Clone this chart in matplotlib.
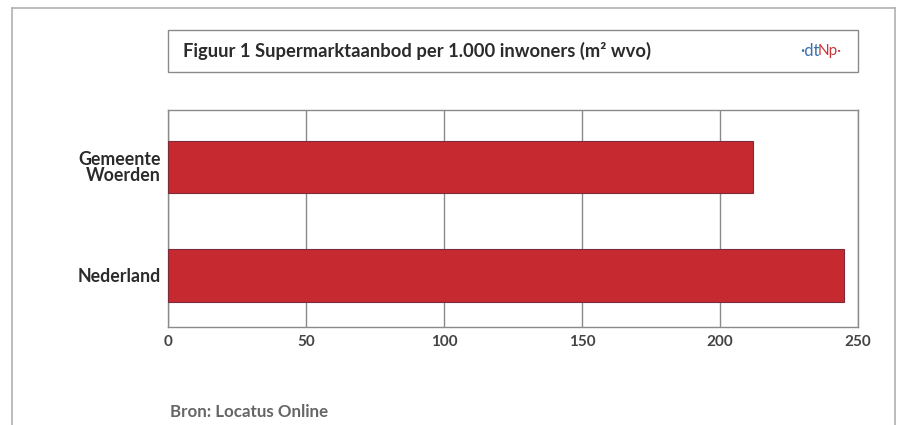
import matplotlib.pyplot as plt
from matplotlib.patches import Rectangle

categories = ['Nederland', 'Gemeente\nWoerden']
values = [245, 212]
xticks = [0, 50, 100, 150, 200, 250]

title = 'Figuur 1 Supermarktaanbod per 1.000 inwoners (m² wvo)'
source = 'Bron: Locatus Online'

plt.rcParams['font.family'] = ['Lato', 'DejaVu Sans']

fig = plt.figure(figsize=(9.04, 4.25), dpi=100)
fig.patch.set_facecolor('white')

# outer frame (cut off at the bottom)
fig.add_artist(plt.Line2D([12/904, 12/904], [0, 1 - 8/425], transform=fig.transFigure, color='#b0b0b0', lw=1.2))
fig.add_artist(plt.Line2D([12/904, 895/904], [1 - 8/425, 1 - 8/425], transform=fig.transFigure, color='#b0b0b0', lw=1.2))
fig.add_artist(plt.Line2D([895/904, 895/904], [0, 1 - 8/425], transform=fig.transFigure, color='#b0b0b0', lw=1.2))

# title box
fig.add_artist(Rectangle((168/904, 1 - 72/425), (858 - 168)/904, 42/425, transform=fig.transFigure,
                         facecolor='white', edgecolor='#8a8a8a', lw=1.0))
fig.text(183/904, 1 - 51/425, title, fontsize=13.2, fontweight='bold', color='#2b2b2b', va='center', ha='left')
fig.text(800/904, 1 - 51/425, '·dt', fontsize=12, color='#3a6fb0', va='center', ha='left')
fig.text(818/904, 1 - 51/425, 'Np·', fontsize=11, color='#c8363a', va='center', ha='left')

ax = fig.add_axes([168/904, 1 - 327/425, (858 - 168)/904, (327 - 110)/425])
ypos = list(range(len(categories)))
ax.barh(ypos, values, height=0.48, color='#c62a30', edgecolor='#7d2a3a', linewidth=0.8, zorder=3)

ax.set_xlim(0, 250)
ax.set_ylim(-0.475, 1.525)
ax.set_xticks(xticks)
ax.set_xticklabels([str(t) for t in xticks], fontsize=11, fontweight='bold', color='#444444')
ax.set_yticks(ypos)
ax.set_yticklabels(categories, fontsize=12.8, fontweight='bold', color='#2b2b2b', linespacing=0.9)
for lbl in ax.get_yticklabels():
    lbl.set_ha('right')
ax.tick_params(axis='x', length=0, pad=6)
ax.tick_params(axis='y', length=0, pad=5)
ax.grid(axis='x', color='#8a8a8a', lw=1.0, zorder=0)
for s in ax.spines.values():
    s.set_color('#8a8a8a')
    s.set_linewidth(1.0)

fig.text(170/904, 1 - 412/425, source, fontsize=12.2, fontweight='bold', color='#666666', va='center', ha='left')

fig.savefig('out.png', dpi=100)
